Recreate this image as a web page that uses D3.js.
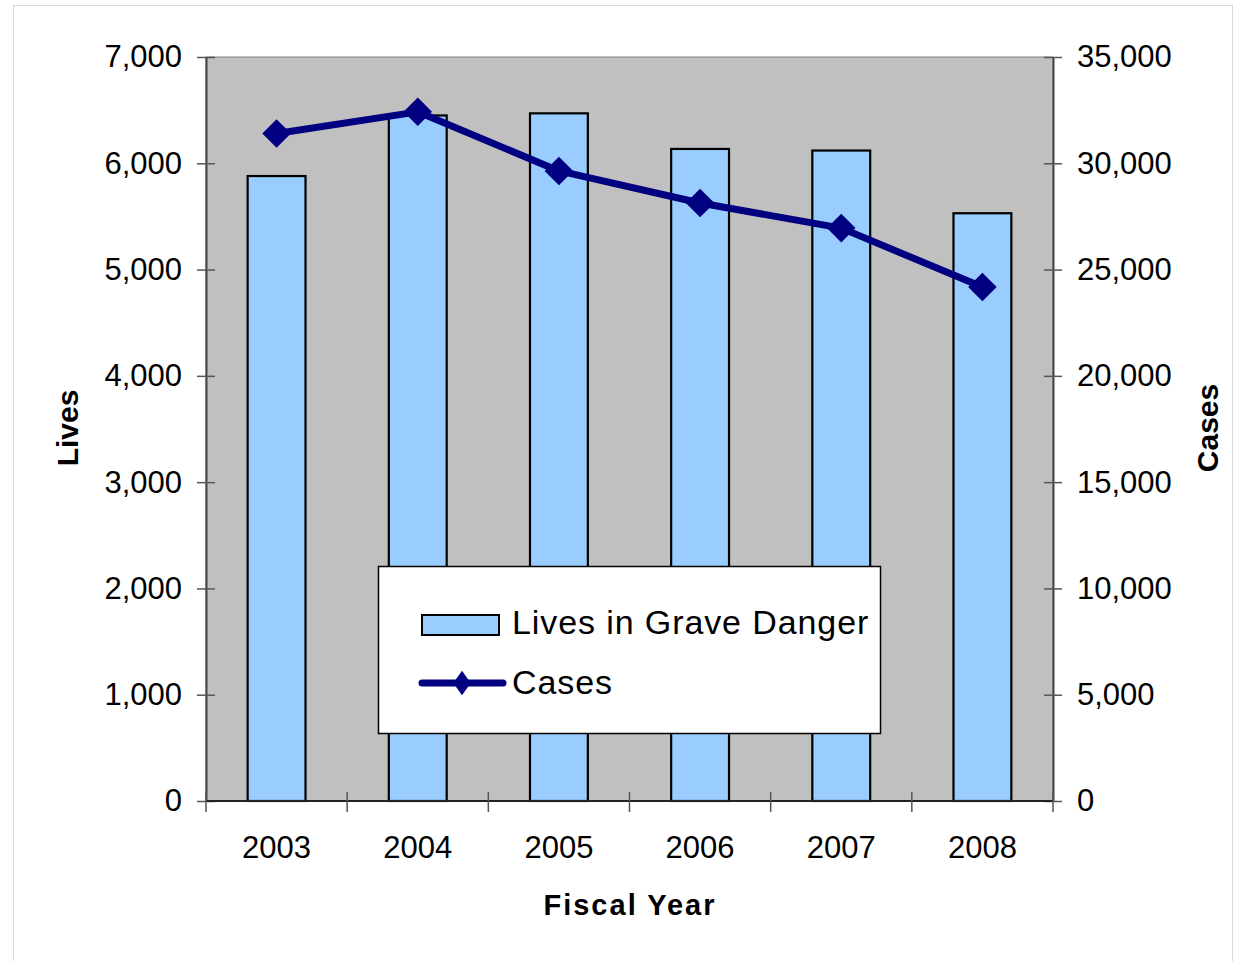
<!DOCTYPE html>
<html><head><meta charset="utf-8">
<script src="https://cdn.jsdelivr.net/npm/d3@7"></script>
<style>body{margin:0;background:#fff}svg{display:block}text{font-family:"Liberation Sans",Arial,sans-serif}</style>
</head><body><svg id="c" width="1234" height="961"></svg>
<script>
const years = ["2003","2004","2005","2006","2007","2008"];
const lives = [5880, 6450, 6470, 6135, 6120, 5530];
const cases = [31400, 32420, 29640, 28130, 26950, 24180];
const livesTicks = [0,1000,2000,3000,4000,5000,6000,7000];
const casesTicks = [0,5000,10000,15000,20000,25000,30000,35000];

const svg = d3.select("#c");
const L=206, R=1053, T=57, B=801;
svg.append("rect").attr("x",13.5).attr("y",5.5).attr("width",1219).attr("height",970).attr("fill","#fff").attr("stroke","#d9d9d9");
svg.append("rect").attr("x",L).attr("y",T).attr("width",R-L).attr("height",B-T).attr("fill","#c0c0c0").attr("stroke","#808080");

const x = d3.scaleBand().domain(years).range([L,R]).paddingInner(0.59).paddingOuter(0.295);
const yL = d3.scaleLinear().domain([0,7000]).range([B,T]);
const yR = d3.scaleLinear().domain([0,35000]).range([B,T]);
const xc = d => x(d)+x.bandwidth()/2;

svg.append("g").selectAll("rect").data(years).join("rect")
  .attr("x",d=>x(d)).attr("width",x.bandwidth())
  .attr("y",(d,i)=>yL(lives[i])).attr("height",(d,i)=>B-yL(lives[i]))
  .attr("fill","#99ccff").attr("stroke","#000").attr("stroke-width",2.2);

const fmt = d3.format(",");
const axL = svg.append("g").attr("transform",`translate(${L},0)`)
  .call(d3.axisLeft(yL).tickValues(livesTicks).tickFormat(fmt).tickSizeInner(0).tickSizeOuter(0).tickPadding(24));
const axR = svg.append("g").attr("transform",`translate(${R},0)`)
  .call(d3.axisRight(yR).tickValues(casesTicks).tickFormat(fmt).tickSizeInner(0).tickSizeOuter(0).tickPadding(24));
[axL,axR].forEach(a=>{
  a.select(".domain").attr("stroke","#444").attr("stroke-width",2);
  a.selectAll(".tick line").attr("x1",-9).attr("x2",9).attr("stroke","#555").attr("stroke-width",1.5);
  a.selectAll("text").attr("font-size",31).attr("fill","#000");
});
// x axis
const xb = d3.scaleLinear().domain([0,6]).range([L,R]);
const axB = svg.append("g").attr("transform",`translate(0,${B})`)
  .call(d3.axisBottom(x).tickSize(0).tickPadding(35));
axB.select(".domain").attr("d",`M${L},0H${R}`).attr("stroke","#222").attr("stroke-width",2);
axB.selectAll("text").attr("font-size",31).attr("fill","#000");
axB.append("g").selectAll("line").data(d3.range(0,7)).join("line")
  .attr("x1",d=>xb(d)).attr("x2",d=>xb(d)).attr("y1",-9).attr("y2",11)
  .attr("stroke","#555").attr("stroke-width",1.5);

// line
const line = d3.line().x((d,i)=>xc(years[i])).y(d=>yR(d));
svg.append("path").datum(cases).attr("d",line).attr("fill","none")
  .attr("stroke","#000080").attr("stroke-width",7).attr("stroke-linejoin","round");
const diamond = d3.symbol().type(d3.symbolDiamond2).size(520);
svg.append("g").selectAll("path").data(cases).join("path")
  .attr("d",diamond).attr("transform",(d,i)=>`translate(${xc(years[i])},${yR(d)})`)
  .attr("fill","#000080");

// titles
svg.append("text").attr("transform","translate(78,428) rotate(-90)").attr("text-anchor","middle")
  .attr("font-size",30).attr("font-weight","bold").text("Lives");
svg.append("text").attr("transform","translate(1218,428) rotate(-90)").attr("text-anchor","middle")
  .attr("font-size",30).attr("font-weight","bold").text("Cases");
svg.append("text").attr("x",630).attr("y",915).attr("text-anchor","middle")
  .attr("font-size",29).attr("font-weight","bold").attr("letter-spacing",2).text("Fiscal Year");

// legend
const lg = svg.append("g");
lg.append("rect").attr("x",378.5).attr("y",566.5).attr("width",502).attr("height",167).attr("fill","#fff").attr("stroke","#000").attr("stroke-width",1.5);
lg.append("rect").attr("x",422).attr("y",615).attr("width",77).attr("height",20).attr("fill","#99ccff").attr("stroke","#000").attr("stroke-width",2);
lg.append("text").attr("x",512).attr("y",634).attr("font-size",34).attr("letter-spacing",0.9).text("Lives in Grave Danger");
lg.append("line").attr("x1",422).attr("x2",503).attr("y1",683).attr("y2",683).attr("stroke","#000080").attr("stroke-width",7).attr("stroke-linecap","round");
lg.append("path").attr("d",d3.symbol().type(d3.symbolDiamond2).size(270)).attr("transform","translate(462,683) scale(0.85,1.2)").attr("fill","#000080");
lg.append("text").attr("x",512).attr("y",694).attr("font-size",34).attr("letter-spacing",0.9).text("Cases");
</script></body></html>
